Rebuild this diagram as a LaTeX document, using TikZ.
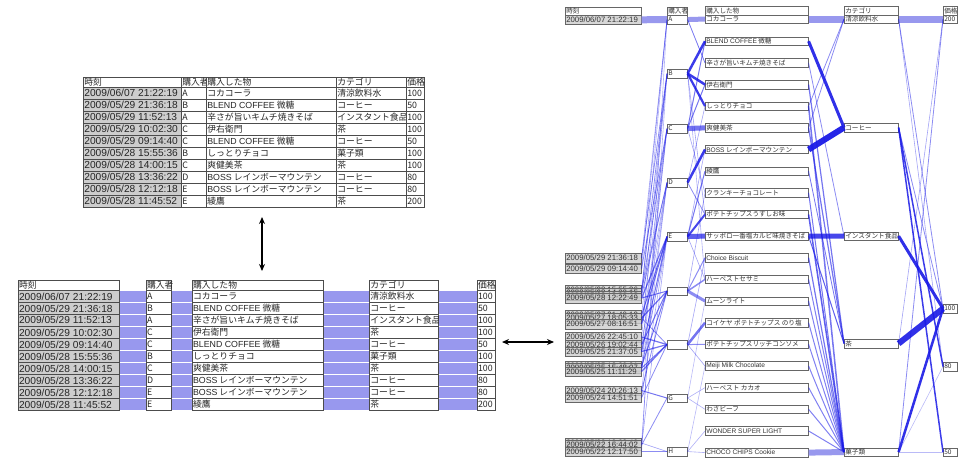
\documentclass[tikz,border=0pt]{standalone}
\usepackage{fontspec}
\setmainfont{Noto Sans CJK JP}
\newfontfamily\lat{Liberation Sans}
\usetikzlibrary{arrows.meta}
\definecolor{linkblue}{RGB}{25,25,230}
\definecolor{bandblue}{RGB}{152,152,238}
\definecolor{cellgray}{RGB}{205,205,205}
\tikzset{
  cell/.style={draw=black!70, line width=0.7pt, fill=white, inner sep=0pt, anchor=north west,
    text=black!85, font=\fontsize{8.8}{9}\selectfont},
  timecell/.style={cell, fill=cellgray, font=\lat\fontsize{10.2}{10}\selectfont},
  rbox/.style={draw=black!60, line width=0.6pt, fill=white, inner sep=0pt, anchor=north west,
    text=black!80, font=\fontsize{6.6}{7}\selectfont},
  rtime/.style={rbox, fill=cellgray, fill opacity=0.8, text opacity=1, font=\lat\fontsize{7.8}{7}\selectfont},
  lnk/.style={draw=linkblue},
  band/.style={draw=bandblue, line width=#1},
  dbl/.style={{Stealth[length=7pt,width=6pt]}-{Stealth[length=7pt,width=6pt]}, line width=1.6pt},
}
% name, x, y, width, height, style, text
\newcommand{\tcell}[7]{\node[#6, minimum width=#4pt, minimum height=#5pt] (#1) at (#2,{#3}) {\makebox[#4pt][l]{\hspace{1pt}#7}};}
\begin{document}
\begin{tikzpicture}[x=1pt,y=-1pt]
  \useasboundingbox (0,0) rectangle (964,458);

  % table above
  \tcell{tp-h-1}{83}{77}{98}{10}{cell}{時刻}
  \tcell{tp-h-2}{181}{77}{25}{10}{cell}{購入者}
  \tcell{tp-h-3}{206}{77}{130}{10}{cell}{購入した物}
  \tcell{tp-h-4}{336}{77}{70}{10}{cell}{カテゴリ}
  \tcell{tp-h-5}{406}{77}{18}{10}{cell}{価格}
  % table below
  \tcell{bt-h-1}{17.7}{280}{101.3}{10}{cell}{時刻}
  \tcell{bt-h-2}{145.7}{280}{25.3}{10}{cell}{購入者}
  \tcell{bt-h-3}{191.7}{280}{131.3}{10}{cell}{購入した物}
  \tcell{bt-h-4}{369}{280}{69}{10}{cell}{カテゴリ}
  \tcell{bt-h-5}{476.7}{280}{18.3}{10}{cell}{価格}
  \foreach \tm/\by/\gd/\ct/\pr [count=\r from 0] in {
    {2009/06/07 21:22:19}/A/コカコーラ/清涼飲料水/100,
    {2009/05/29 21:36:18}/B/{\lat BLEND COFFEE} 微糖/コーヒー/50,
    {2009/05/29 11:52:13}/A/辛さが旨いキムチ焼きそば/インスタント食品/100,
    {2009/05/29 10:02:30}/C/伊右衛門/茶/100,
    {2009/05/29 09:14:40}/C/{\lat BLEND COFFEE} 微糖/コーヒー/50,
    {2009/05/28 15:55:36}/B/しっとりチョコ/菓子類/100,
    {2009/05/28 14:00:15}/C/爽健美茶/茶/100,
    {2009/05/28 13:36:22}/D/{\lat BOSS} レインボーマウンテン/コーヒー/80,
    {2009/05/28 12:12:18}/E/{\lat BOSS} レインボーマウンテン/コーヒー/80,
    {2009/05/28 11:45:52}/E/綾鷹/茶/200}
  {
    \tcell{tp-\r-1}{83}{87+12*\r}{98}{12}{timecell}{\tm}
    \tcell{tp-\r-2}{181}{87+12*\r}{25}{12}{cell}{\by}
    \tcell{tp-\r-3}{206}{87+12*\r}{130}{12}{cell}{\gd}
    \tcell{tp-\r-4}{336}{87+12*\r}{70}{12}{cell}{\ct}
    \tcell{tp-\r-5}{406}{87+12*\r}{18}{12}{cell}{\pr}
    \tcell{bt-\r-1}{17.7}{290+12*\r}{101.3}{12}{timecell}{\tm}
    \tcell{bt-\r-2}{145.7}{290+12*\r}{25.3}{12}{cell}{\by}
    \tcell{bt-\r-3}{191.7}{290+12*\r}{131.3}{12}{cell}{\gd}
    \tcell{bt-\r-4}{369}{290+12*\r}{69}{12}{cell}{\ct}
    \tcell{bt-\r-5}{476.7}{290+12*\r}{18.3}{12}{cell}{\pr}
    \draw[band=11pt] (bt-\r-1.east) -- (bt-\r-2.west);
    \draw[band=11pt] (bt-\r-2.east) -- (bt-\r-3.west);
    \draw[band=11pt] (bt-\r-3.east) -- (bt-\r-4.west);
    \draw[band=11pt] (bt-\r-4.east) -- (bt-\r-5.west);
  }

  % arrows between the views
  \coordinate (vtop) at (262,217);
  \coordinate (vbot) at (262,271);
  \draw[dbl] (vtop) -- (vbot);
  \coordinate (hleft) at (502,342);
  \coordinate (hright) at (554,342);
  \draw[dbl] (hleft) -- (hright);

  % parallel view: headers
  \tcell{rh-1}{565}{6.5}{76}{8.5}{rbox}{時刻}
  \tcell{rh-2}{667}{6.5}{20}{8.5}{rbox}{購入者}
  \tcell{rh-3}{705}{6}{103}{8.5}{rbox}{購入した物}
  \tcell{rh-4}{844}{6}{54}{8.5}{rbox}{カテゴリ}
  \tcell{rh-5}{943}{6}{14}{8.5}{rbox}{価格}
  % times
  \tcell{ts0}{565}{15}{76}{9}{rtime}{2009/06/07 21:22:19}
  \foreach \y/\tm [count=\k] in {253/{2009/05/29 21:36:18}, 263.5/{2009/05/29 09:14:40},
      284.5/{2009/05/28 15:55:36}, 287.5/{2009/05/28 14:00:15}, 290.5/{2009/05/28 13:36:22}, 293/{2009/05/28 12:22:49},
      310/{2009/05/27 21:40:12}, 313/{2009/05/27 18:05:33}, 319/{2009/05/27 08:16:51},
      332/{2009/05/26 22:45:10}, 339.5/{2009/05/26 19:02:44}, 346.5/{2009/05/25 21:37:05},
      361/{2009/05/25 18:20:31}, 363/{2009/05/25 15:48:07}, 366.5/{2009/05/25 11:11:29},
      385.5/{2009/05/24 20:26:13}, 392.5/{2009/05/24 14:51:51},
      438/{2009/05/22 19:03:40}, 440/{2009/05/22 16:44:02}, 446.5/{2009/05/22 12:17:50}}
    {\tcell{ts\k}{565}{\y}{76}{9.5}{rtime}{\tm}}
  % buyers
  \foreach \y/\lb [count=\k] in {15/A, 69/B, 124/C, 178/D, 232/E, 286.5/{}, 340/{}, 393.5/G, 447/H}
    {\tcell{by\k}{667}{\y}{20}{8.5}{rbox}{\lb}}
  % goods
  \tcell{it0}{705}{14.5}{103}{8.5}{rbox}{コカコーラ}
  \foreach \gd [count=\k] in {{\lat BLEND COFFEE} 微糖, 辛さが旨いキムチ焼きそば, 伊右衛門, しっとりチョコ, 爽健美茶,
      {\lat BOSS} レインボーマウンテン, 綾鷹, クランキーチョコレート, ポテトチップスうすしお味,
      サッポロ一番塩カルビ味焼きそば, {\lat Choice Biscuit}, ハーベストセサミ, ムーンライト,
      コイケヤ ポテトチップス のり塩, ポテトチップスリッチコンソメ, {\lat Meiji Milk Chocolate},
      ハーベスト カカオ, わさビーフ, {\lat WONDER SUPER LIGHT}, {\lat CHOCO CHIPS Cookie}}
    {\tcell{it\k}{705}{36.7+21.65*(\k-1)}{103}{8.5}{rbox}{\gd}}
  % categories
  \tcell{cS}{844}{14.5}{54}{8.5}{rbox}{清涼飲料水}
  \tcell{cK}{844}{123}{54}{8.5}{rbox}{コーヒー}
  \tcell{cI}{844}{231.5}{54}{8.5}{rbox}{インスタント食品}
  \tcell{cT}{844}{339}{54}{8.5}{rbox}{茶}
  \tcell{cG}{844}{447.5}{54}{8.5}{rbox}{菓子類}
  % prices
  \tcell{p200}{943}{14.5}{14}{8.5}{rbox}{200}
  \tcell{p100}{943}{304}{14}{8.5}{rbox}{100}
  \tcell{p80}{943}{362}{14}{8.5}{rbox}{80}
  \tcell{p50}{943}{447.5}{14}{8.5}{rbox}{50}

  % light bands
  \draw[band=7pt] (ts0.east) -- (by1.west);
  \draw[band=5pt] (by1.east) -- (it0.west);
  \draw[band=7pt] (it0.east) -- (cS.west);
  \draw[band=7pt] (cS.east) -- (p200.west);
  \draw[band=6pt] (it20.east) -- (cG.west);
  % time to buyer
  \foreach \a/\b/\w/\o in {ts1/by1/0.6/0.4, ts1/by2/0.8/0.5, ts2/by3/0.8/0.5, ts2/by1/0.6/0.4, ts3/by2/0.8/0.5,
      ts4/by3/0.8/0.5, ts5/by4/0.8/0.5, ts6/by5/1.2/0.6, ts6/by6/1/0.6, ts7/by2/0.6/0.4, ts7/by5/1/0.6,
      ts8/by6/1.2/0.6, ts8/by7/0.8/0.5, ts9/by3/0.6/0.4, ts9/by5/1/0.6, ts10/by7/1.2/0.6, ts10/by2/0.6/0.4,
      ts11/by4/0.6/0.4, ts11/by6/1/0.6, ts12/by5/1/0.6, ts12/by7/1.2/0.6, ts13/by6/1/0.6, ts13/by3/0.6/0.4,
      ts14/by5/0.8/0.5, ts14/by7/1/0.6, ts15/by7/1.2/0.6, ts15/by4/0.6/0.4, ts16/by8/1/0.6, ts16/by6/0.8/0.5,
      ts17/by7/0.8/0.5, ts17/by5/0.6/0.4, ts18/by9/0.6/0.4, ts18/by2/0.6/0.35, ts19/by8/0.8/0.5,
      ts19/by5/0.6/0.4, ts20/by9/0.8/0.5, ts20/by1/0.6/0.35, ts3/by4/0.6/0.4, ts5/by1/0.6/0.35,
      ts9/by4/0.6/0.4, ts12/by3/0.6/0.4, ts16/by4/0.6/0.35}
    {\draw[lnk, line width=\w pt, draw opacity=\o] (\a.east) -- (\b.west);}
  % buyer to goods
  \foreach \a/\b/\w/\o in {by1/it2/0.8/0.6, by2/it1/2.5/0.85, by2/it3/2.5/0.85, by2/it4/2.2/0.85,
      by2/it9/0.6/0.4, by2/it12/0.6/0.35, by3/it5/5/0.6, by3/it3/1/0.6, by3/it1/1/0.6, by3/it8/0.6/0.4,
      by4/it6/2.5/0.85, by4/it9/0.8/0.5, by4/it4/0.6/0.4, by5/it10/5/0.7, by5/it9/2/0.8, by5/it7/1/0.6,
      by5/it6/0.6/0.4, by5/it12/0.6/0.4, by6/it13/3/0.5, by6/it11/1/0.5, by6/it12/1.5/0.5, by6/it8/0.6/0.4,
      by7/it14/2.5/0.6, by7/it15/1/0.5, by7/it16/0.6/0.4, by7/it11/0.6/0.4, by8/it17/0.6/0.35,
      by8/it18/0.6/0.35, by8/it13/0.6/0.3, by9/it20/0.6/0.35, by9/it19/0.6/0.35, by9/it16/0.6/0.3}
    {\draw[lnk, line width=\w pt, draw opacity=\o] (\a.east) -- (\b.west);}
  % goods to category
  \foreach \a/\b/\w/\o in {it1/cK/3/0.9, it6/cK/6/0.95, it2/cI/0.8/0.5, it10/cI/5/0.8, it3/cT/1.2/0.6,
      it5/cT/1.2/0.6, it7/cT/0.8/0.6, it10/cT/1/0.7, it4/cS/0.8/0.5, it5/cS/0.8/0.5, it4/cG/1.5/0.6,
      it8/cG/1/0.6, it9/cG/1.5/0.7, it11/cG/1.2/0.6, it12/cG/1/0.55, it13/cG/1/0.55, it14/cG/1/0.55,
      it15/cG/1/0.55, it16/cG/1/0.55, it17/cG/1/0.55, it18/cG/1/0.55, it19/cG/1/0.55}
    {\draw[lnk, line width=\w pt, draw opacity=\o] (\a.east) -- (\b.west);}
  % category to price
  \foreach \a/\b/\w/\o in {cS/p100/0.8/0.5, cS/p80/0.6/0.4, cK/p80/1.5/0.85, cK/p50/1.5/0.85,
      cK/p100/0.8/0.5, cI/p100/3/0.9, cT/p100/6/0.9, cT/p200/0.6/0.4, cG/p100/2.5/0.9,
      cG/p200/0.8/0.5, cG/p50/0.6/0.3, cG/p80/0.6/0.3}
    {\draw[lnk, line width=\w pt, draw opacity=\o] (\a.east) -- (\b.west);}
\end{tikzpicture}
\end{document}
